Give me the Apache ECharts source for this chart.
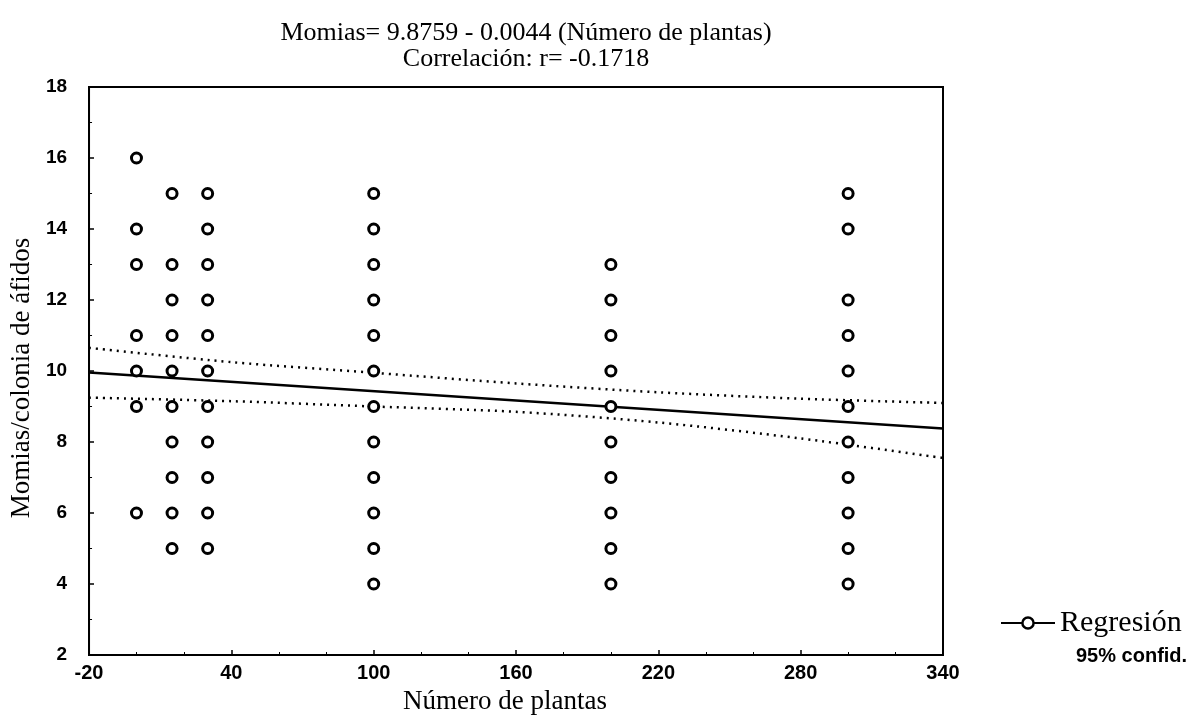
<!DOCTYPE html>
<html>
<head>
<meta charset="utf-8">
<script src="https://cdn.jsdelivr.net/npm/echarts@6/dist/echarts.min.js"></script>
<style>html,body{margin:0;padding:0;background:#fff}#c{width:1199px;height:723px}</style>
</head>
<body>
<div id="c"></div>
<script>
// Number of plants (column positions) and aphid-mummy counts per column
const plantCols = [0, 15, 30, 100, 200, 300];
const mummiesAt0 = [16, 14, 13, 11, 10, 9, 6];
const mummiesAt15 = [15, 13, 12, 11, 10, 9, 8, 7, 6, 5];
const mummiesAt30 = [15, 14, 13, 12, 11, 10, 9, 8, 7, 6, 5];
const mummiesAt100 = [15, 14, 13, 12, 11, 10, 9, 8, 7, 6, 5, 4];
const mummiesAt200 = [13, 12, 11, 10, 9, 8, 7, 6, 5, 4];
const mummiesAt300 = [15, 14, 12, 11, 10, 9, 8, 7, 6, 5, 4];
// Regression line endpoints
const regX = [-20, 340];
const regY = [9.96, 8.38];
// 95% confidence band
const bandX = [-20, 40, 100, 160, 220, 280, 340];
const bandUpper = [10.65, 10.25, 9.95, 9.65, 9.4, 9.22, 9.1];
const bandLower = [9.25, 9.15, 9.0, 8.85, 8.55, 8.1, 7.55];
// Axis ticks
const xTicks = [-20, 40, 100, 160, 220, 280, 340];
const yTicks = [2, 4, 6, 8, 10, 12, 14, 16, 18];

const groups = [mummiesAt0, mummiesAt15, mummiesAt30, mummiesAt100, mummiesAt200, mummiesAt300];
const points = [];
groups.forEach((g, i) => g.forEach(v => points.push([plantCols[i], v])));

const serif = 'Liberation Serif';
const sans = 'Liberation Sans';

const chart = echarts.init(document.getElementById('c'), null, {renderer: 'canvas'});
chart.setOption({
  backgroundColor: '#fff',
  animation: false,
  title: {
    text: 'Momias= 9.8759 - 0.0044 (Número de plantas)\nCorrelación: r= -0.1718',
    left: 521, top: 15, textAlign: 'center',
    textStyle: {fontFamily: serif, fontSize: 26, fontWeight: 'normal', color: '#000', lineHeight: 26}
  },
  grid: {left: 85, right: 256, top: 87, bottom: 68, show: true, borderColor: '#000', borderWidth: 2, backgroundColor: 'transparent'},
  legend: [
    {
      data: ['Regresión'], left: 995, top: 603, itemWidth: 54, itemHeight: 14, itemGap: 12,
      itemStyle: {color: '#fff', borderColor: '#000', borderWidth: 2.5},
      textStyle: {fontFamily: serif, fontSize: 30, color: '#000'}
    },
    {
      data: [{name: '95% confid.', icon: 'none'}], left: 1066, top: 641, itemWidth: 0, itemGap: 0,
      textStyle: {fontFamily: sans, fontSize: 20, fontWeight: 'bold', color: '#000'}
    }
  ],
  xAxis: {
    type: 'value', min: xTicks[0], max: xTicks[xTicks.length - 1], interval: 60,
    name: 'Número de plantas', nameLocation: 'middle', nameGap: 33,
    nameTextStyle: {fontFamily: serif, fontSize: 27, color: '#000', padding: [0, 22, 0, 0]},
    axisLine: {show: true, onZero: false, lineStyle: {color: '#000', width: 2}},
    axisTick: {show: true, inside: true, length: 5, lineStyle: {color: '#000', width: 1.5}},
    minorTick: {show: true, splitNumber: 3, length: 3, lineStyle: {color: '#000'}},
    splitLine: {show: false},
    axisLabel: {fontFamily: sans, fontSize: 20, fontWeight: 'bold', color: '#000', margin: 8}
  },
  yAxis: {
    type: 'value', min: yTicks[0], max: yTicks[yTicks.length - 1], interval: 2,
    name: 'Momias/colonia de áfidos', nameLocation: 'middle', nameGap: 40,
    nameTextStyle: {fontFamily: serif, fontSize: 27, color: '#000', padding: [0, 14, 0, 0]},
    axisLine: {show: true, onZero: false, lineStyle: {color: '#000', width: 2}},
    axisTick: {show: true, inside: true, length: 5, lineStyle: {color: '#000', width: 1.5}},
    minorTick: {show: true, splitNumber: 2, length: 3, lineStyle: {color: '#000'}},
    splitLine: {show: false},
    axisLabel: {fontFamily: sans, fontSize: 19, fontWeight: 'bold', color: '#000', margin: 22}
  },
  series: [
    {
      name: 'Observaciones', type: 'scatter', data: points, symbol: 'circle', symbolSize: 10,
      itemStyle: {color: '#fff', borderColor: '#000', borderWidth: 3, opacity: 1}, z: 5
    },
    {
      name: 'Regresión', type: 'line', data: regX.map((x, i) => [x, regY[i]]),
      showSymbol: false, symbol: 'circle', symbolSize: 10,
      itemStyle: {color: '#fff', borderColor: '#000', borderWidth: 2.5},
      lineStyle: {color: '#000', width: 2.5}, z: 4
    },
    {
      name: '95% confid.', type: 'line', data: bandX.map((x, i) => [x, bandUpper[i]]),
      showSymbol: false, smooth: 0.3, symbol: 'none',
      lineStyle: {color: '#000', width: 2.5, type: [2, 5]}, z: 3
    },
    {
      name: '95% confid.', type: 'line', data: bandX.map((x, i) => [x, bandLower[i]]),
      showSymbol: false, smooth: 0.3, symbol: 'none',
      lineStyle: {color: '#000', width: 2.5, type: [2, 5]}, z: 3
    }
  ]
});
</script>
</body>
</html>
